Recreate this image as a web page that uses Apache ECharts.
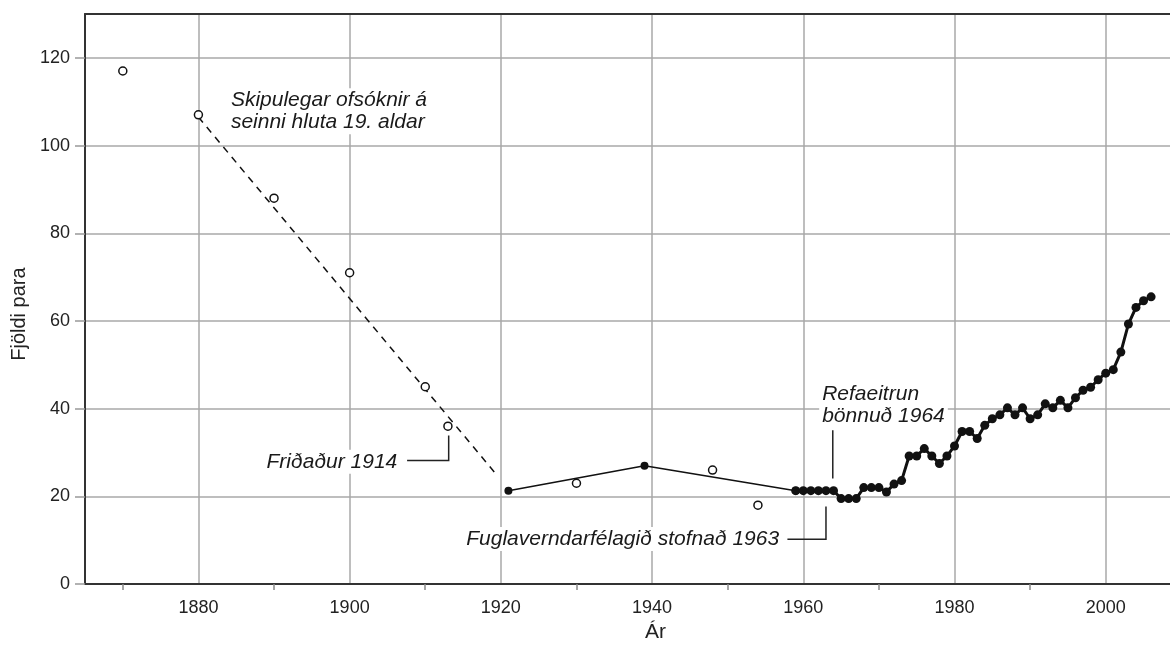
<!DOCTYPE html>
<html>
<head>
<meta charset="utf-8">
<script src="https://cdn.jsdelivr.net/npm/echarts@6/dist/echarts.min.js"></script>
<style>
  html, body { margin: 0; padding: 0; background: #fff; }
  #main { width: 1170px; height: 648px; }
</style>
</head>
<body>
<div id="main"></div>
<script>
// open circles (single counts)
const hollowYears = [1870, 1880, 1890, 1900, 1910, 1913, 1930, 1948, 1954];
const hollowPairs = [117, 107, 88, 71, 45, 36, 23, 26, 18];

// dashed decline line, 19th century
const trendYears = [1880, 1919.5];
const trendPairs = [106.5, 24.8];

// early counts joined with a thin line
const earlyYears = [1921, 1939, 1959];
const earlyPairs = [21.3, 27, 21.3];

// yearly counts from 1959
const countYears = [1959, 1960, 1961, 1962, 1963, 1964, 1965, 1966, 1967, 1968,
  1969, 1970, 1971, 1972, 1973, 1974, 1975, 1976, 1977, 1978, 1979, 1980, 1981,
  1982, 1983, 1984, 1985, 1986, 1987, 1988, 1989, 1990, 1991, 1992, 1993, 1994,
  1995, 1996, 1997, 1998, 1999, 2000, 2001, 2002, 2003, 2004, 2005, 2006];
const countPairs = [21.3, 21.3, 21.3, 21.3, 21.3, 21.3, 19.5, 19.5, 19.5, 22,
  22, 22, 21, 22.8, 23.6, 29.2, 29.2, 30.9, 29.2, 27.5, 29.2, 31.5, 34.8,
  34.8, 33.2, 36.2, 37.7, 38.6, 40.2, 38.6, 40.2, 37.7, 38.6, 41.1, 40.2, 41.9,
  40.2, 42.5, 44.2, 44.9, 46.6, 48.1, 48.9, 52.9, 59.3, 63.1, 64.6, 65.5];

// axis ticks
const labelYears = [1880, 1900, 1920, 1940, 1960, 1980, 2000];
const minorYears = [1870, 1890, 1910, 1930, 1950, 1970, 1990];
const yTicks = [0, 20, 40, 60, 80, 100, 120];

// annotations, in data units
const notes = [
  { text: 'Skipulegar ofsóknir á\nseinni hluta 19. aldar', at: [1883.9, 107.8], align: 'left' },
  { text: 'Friðaður 1914', at: [1906.7, 27.9], align: 'right' },
  { text: 'Fuglaverndarfélagið stofnað 1963', at: [1957.2, 10.3], align: 'right' },
  { text: 'Refaeitrun\nbönnuð 1964', at: [1962.1, 40.7], align: 'left' }
];
const leaders = [
  [[1907.6, 28.2], [1913.1, 28.2], [1913.1, 33.9]],
  [[1957.9, 10.2], [1963, 10.2], [1963, 17.7]],
  [[1963.9, 35.1], [1963.9, 24.1]]
];

const zip = (xs, ys) => xs.map((x, i) => [x, ys[i]]);

const font = 'Liberation Sans, Arial, sans-serif';
const gridStyle = { color: '#a8a8a8', width: 1.5 };
const axisStyle = { color: '#333', width: 2 };

const chart = echarts.init(document.getElementById('main'));

const option = {
  animation: false,
  textStyle: { fontFamily: font },
  grid: { left: 85, top: 14, right: 0, bottom: 62 },
  xAxis: [
    {
      type: 'value', min: 1865, max: 2008.5, position: 'bottom',
      name: 'Ár', nameLocation: 'middle', nameGap: 37,
      nameTextStyle: { fontSize: 21, color: '#222', padding: [0, 0, 0, 56] },
      axisLine: { lineStyle: axisStyle },
      axisTick: { show: false, customValues: labelYears },
      axisLabel: { customValues: labelYears, fontSize: 18, color: '#222', margin: 15, formatter: v => String(v) },
      splitLine: { show: true, lineStyle: gridStyle }
    },
    {
      type: 'value', min: 1865, max: 2008.5, position: 'bottom',
      axisLine: { show: false },
      axisTick: { show: true, customValues: minorYears, length: 6, lineStyle: { color: '#888', width: 1.5 } },
      axisLabel: { show: false },
      splitLine: { show: false }
    },
    {
      type: 'value', min: 1865, max: 2008.5, position: 'top',
      axisLine: { show: true, lineStyle: axisStyle },
      axisTick: { show: false }, axisLabel: { show: false }, splitLine: { show: false }
    }
  ],
  yAxis: {
    type: 'value', min: 0, max: 130,
    name: 'Fjöldi para', nameLocation: 'middle', nameGap: 54,
    nameTextStyle: { fontSize: 20, color: '#222', padding: [0, 30, 0, 0] },
    axisLine: { show: true, lineStyle: axisStyle },
    axisTick: { show: true, customValues: yTicks, length: 10, lineStyle: { color: '#999', width: 1.5 } },
    axisLabel: { customValues: yTicks, fontSize: 18, color: '#222', margin: 15 },
    splitLine: { show: true, lineStyle: gridStyle }
  },
  series: [
    {
      type: 'line', data: zip(trendYears, trendPairs), symbol: 'none',
      lineStyle: { color: '#111', width: 1.5, type: [7, 6] }, z: 2
    },
    {
      type: 'scatter', data: zip(hollowYears, hollowPairs), symbol: 'circle', symbolSize: 8,
      itemStyle: { color: '#fff', borderColor: '#111', borderWidth: 1.5, opacity: 1 }, z: 3
    },
    {
      type: 'line', data: zip(earlyYears, earlyPairs), symbol: 'circle', symbolSize: 8,
      lineStyle: { color: '#111', width: 1.6 }, itemStyle: { color: '#111' }, z: 3
    },
    {
      type: 'line', data: zip(countYears, countPairs), symbol: 'circle', symbolSize: 9,
      lineStyle: { color: '#111', width: 3 }, itemStyle: { color: '#111' }, z: 4
    }
  ]
};

chart.setOption(option);

const px = p => chart.convertToPixel({ xAxisIndex: 0, yAxisIndex: 0 }, p);
const graphics = [];
notes.forEach(n => {
  const p = px(n.at);
  graphics.push({
    type: 'text', x: p[0], y: p[1], z: 10,
    style: {
      text: n.text, font: 'italic 21px ' + font, fill: '#1a1a1a',
      align: n.align, verticalAlign: 'middle', lineHeight: 22,
      backgroundColor: '#fff', padding: [1, 3]
    }
  });
});
leaders.forEach(l => {
  graphics.push({
    type: 'polyline', z: 10,
    shape: { points: l.map(px) },
    style: { stroke: '#222', lineWidth: 1.5, fill: null }
  });
});
chart.setOption({ graphic: graphics });
</script>
</body>
</html>
